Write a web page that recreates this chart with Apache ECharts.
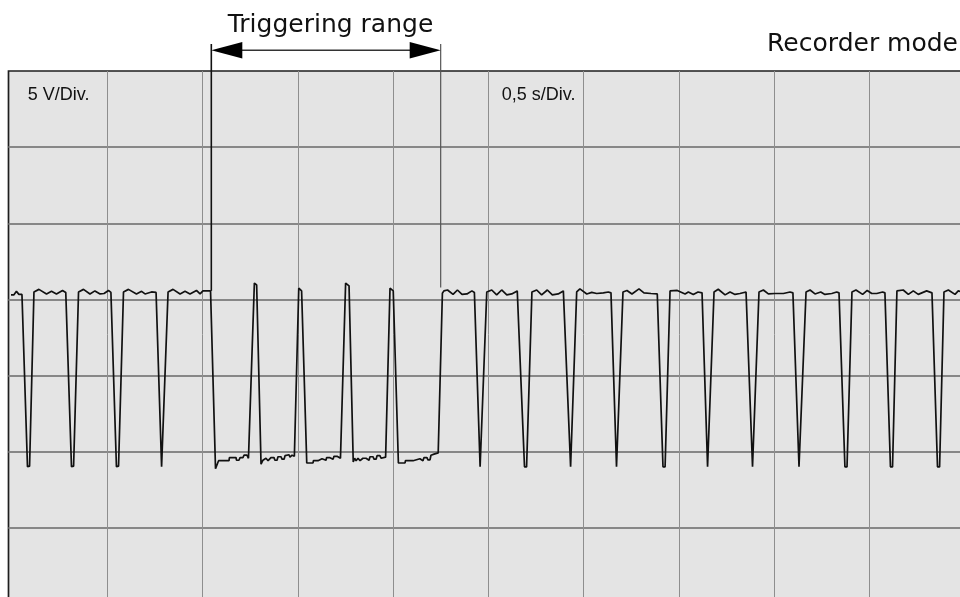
<!DOCTYPE html>
<html>
<head>
<meta charset="utf-8">
<script src="https://cdn.jsdelivr.net/npm/echarts@6/dist/echarts.min.js"></script>
<style>html,body{margin:0;padding:0;background:#fff}#c{width:960px;height:597px}</style>
</head>
<body>
<div id="c"></div>
<script>
// ---- Axis setup (time in s, 0.5 s/div; voltage in V, 5 V/div) ----
const xMin = 0, xMax = 5, xInterval = 0.5;
const yMin = -10, yMax = 25, yInterval = 5;
const voltDivLabel = '5 V/Div.';
const timeDivLabel = '0,5 s/Div.';
const titleLabel = 'Triggering range';
const modeLabel = 'Recorder mode';
// Triggering range bounds [s] and the voltage where each marker meets the trace
const triggerRange = [1.046, 2.250];
const triggerMarkerEndV = [10.56, 10.78];

// ---- Trace [time s, voltage V] ----
const preTrigger = [
[-0.021,10.30],[0.010,10.30],[0.023,10.53],[0.036,10.33],[0.052,10.33],[0.081,-0.99],[0.092,-0.95],
[0.115,10.49],[0.141,10.66],[0.181,10.36],[0.207,10.53],[0.233,10.36],[0.265,10.59],[0.282,10.46],[0.312,-0.99],[0.323,-0.95],
[0.349,10.49],[0.375,10.66],[0.409,10.36],[0.435,10.56],[0.462,10.36],[0.483,10.39],[0.506,10.59],[0.519,10.46],[0.548,-0.99],[0.559,-0.95],
[0.585,10.49],[0.611,10.66],[0.653,10.36],[0.680,10.53],[0.698,10.36],[0.732,10.49],[0.756,10.46],[0.785,-0.99],[0.795,-0.95],
[0.819,10.49],[0.845,10.66],[0.882,10.36],[0.908,10.53],[0.934,10.36],[0.968,10.59],[0.987,10.36],[1.002,10.56],[1.042,10.56]
];
const triggerWindow = [
[1.044,10.56],[1.068,-1.12],[1.078,-1.09],[1.084,-0.59],[1.139,-0.59],[1.141,-0.39],[1.176,-0.39],[1.178,-0.56],[1.191,-0.56],[1.197,-0.39],[1.212,-0.39],[1.218,-0.23],[1.233,-0.23],[1.241,-0.43],[1.246,-0.43],
[1.272,11.07],[1.284,10.95],
[1.307,-0.82],[1.312,-0.82],[1.317,-0.56],[1.325,-0.69],[1.333,-0.43],[1.344,-0.59],[1.354,-0.59],[1.359,-0.39],[1.375,-0.39],[1.380,-0.56],[1.391,-0.56],[1.396,-0.33],[1.412,-0.33],[1.417,-0.49],[1.428,-0.49],[1.433,-0.26],[1.454,-0.20],[1.459,-0.36],[1.470,-0.23],[1.482,-0.30],
[1.505,10.74],[1.520,10.56],
[1.547,-0.74],[1.580,-0.74],[1.582,-0.59],[1.606,-0.59],[1.609,-0.46],[1.627,-0.46],[1.630,-0.56],[1.648,-0.56],[1.651,-0.39],[1.669,-0.39],[1.674,-0.49],[1.685,-0.49],[1.690,-0.30],[1.706,-0.30],[1.711,-0.43],[1.724,-0.43],[1.730,-0.36],
[1.751,11.07],[1.769,10.89],
[1.791,-0.67],[1.798,-0.43],[1.806,-0.59],[1.816,-0.43],[1.827,-0.59],[1.837,-0.59],[1.842,-0.43],[1.858,-0.43],[1.863,-0.56],[1.874,-0.56],[1.879,-0.33],[1.895,-0.33],[1.900,-0.49],[1.911,-0.49],[1.916,-0.26],[1.931,-0.26],[1.937,-0.43],[1.947,-0.30],[1.961,-0.36],
[1.984,10.74],[2.001,10.56],
[2.028,-0.74],[2.063,-0.74],[2.065,-0.59],[2.105,-0.59],[2.107,-0.46],[2.141,-0.46],[2.144,-0.59],[2.157,-0.59],[2.162,-0.39],[2.178,-0.39],[2.183,-0.53],[2.194,-0.53],[2.199,-0.23],[2.215,-0.16],[2.225,-0.10],[2.237,-0.08]
];
const postTrigger = [
[2.259,10.41],[2.267,10.56],[2.286,10.62],[2.315,10.33],[2.338,10.62],[2.362,10.33],[2.388,10.36],[2.414,10.56],[2.427,10.46],[2.457,-0.99],[2.467,-1.00],
[2.492,10.49],[2.518,10.62],[2.544,10.30],[2.570,10.62],[2.597,10.30],[2.623,10.36],[2.652,10.56],[2.661,10.46],[2.690,-0.99],[2.701,-1.00],
[2.729,10.49],[2.754,10.62],[2.780,10.30],[2.810,10.62],[2.836,10.30],[2.867,10.36],[2.894,10.56],[2.903,10.46],[2.932,-0.99],[2.942,-1.00],
[2.964,10.49],[2.981,10.69],[3.017,10.36],[3.043,10.46],[3.069,10.39],[3.104,10.43],[3.130,10.49],[3.144,10.43],[3.173,-0.99],[3.183,-1.00],
[3.207,10.49],[3.228,10.59],[3.254,10.36],[3.291,10.69],[3.317,10.43],[3.354,10.39],[3.387,10.36],[3.417,-0.99],[3.428,-1.00],
[3.454,10.56],[3.492,10.59],[3.533,10.36],[3.550,10.49],[3.576,10.33],[3.601,10.49],[3.622,10.43],[3.651,-0.99],[3.661,-1.00],
[3.685,10.49],[3.707,10.67],[3.743,10.30],[3.769,10.49],[3.795,10.33],[3.821,10.39],[3.853,10.49],[3.858,10.43],[3.887,-0.99],[3.897,-1.00],
[3.921,10.49],[3.944,10.62],[3.970,10.36],[4.005,10.39],[4.049,10.39],[4.084,10.49],[4.099,10.43],[4.131,-0.99],[4.141,-1.00],
[4.168,10.49],[4.189,10.62],[4.215,10.36],[4.245,10.49],[4.267,10.33],[4.303,10.39],[4.329,10.49],[4.341,10.43],[4.372,-0.99],[4.383,-1.00],
[4.409,10.49],[4.430,10.62],[4.465,10.33],[4.489,10.59],[4.513,10.39],[4.539,10.39],[4.570,10.49],[4.582,10.43],[4.611,-0.99],[4.622,-1.00],
[4.645,10.56],[4.678,10.62],[4.705,10.33],[4.731,10.56],[4.757,10.33],[4.801,10.56],[4.829,10.43],[4.858,-0.99],[4.869,-1.00],
[4.892,10.49],[4.915,10.62],[4.950,10.33],[4.967,10.56],[4.987,10.49]
];

const trace = preTrigger.concat(triggerWindow, postTrigger);

const chart = echarts.init(document.getElementById('c'), null, {renderer: 'canvas'});
const option = {
  animation: false,
  backgroundColor: '#ffffff',
  grid: [
    // screen frame: background, border and horizontal divisions (runs to the left border)
    {left: 8.5, top: 71, width: 980, height: 533, outerBoundsMode: 'none', containLabel: false, show: true, backgroundColor: '#e4e4e4', borderColor: '#1e1e1e', borderWidth: 1.7},
    // time/voltage scale carrying the trace and vertical divisions
    {left: 12.05, top: 71, width: 952.5, height: 533, outerBoundsMode: 'none', containLabel: false, show: false}
  ],
  xAxis: [
    {gridIndex: 0, type: 'value', show: false, min: 0, max: 1},
    {gridIndex: 1, type: 'value', min: xMin, max: xMax, interval: xInterval,
     axisLine: {show: false}, axisTick: {show: false}, axisLabel: {show: false},
     splitLine: {show: true, showMinLine: false, showMaxLine: false, lineStyle: {color: '#8e8e8e', width: 1}}}
  ],
  yAxis: [
    {gridIndex: 0, type: 'value', min: yMin, max: yMax, interval: yInterval,
     axisLine: {show: false}, axisTick: {show: false}, axisLabel: {show: false},
     splitLine: {show: true, showMinLine: false, showMaxLine: false, lineStyle: {color: '#878787', width: 2}}},
    {gridIndex: 1, type: 'value', min: yMin, max: yMax, interval: yInterval,
     axisLine: {show: false}, axisTick: {show: false}, axisLabel: {show: false},
     splitLine: {show: false}}
  ],
  series: [{
    type: 'line', xAxisIndex: 1, yAxisIndex: 1, data: trace,
    showSymbol: false, symbol: 'none', clip: false, smooth: false,
    lineStyle: {color: '#111111', width: 1.7}, z: 5
  }]
};
chart.setOption(option);

const pL = chart.convertToPixel({gridIndex: 1}, [triggerRange[0], triggerMarkerEndV[0]]);
const pR = chart.convertToPixel({gridIndex: 1}, [triggerRange[1], triggerMarkerEndV[1]]);
const topY = 44, arrowY = 50.2, headLen = 31, headHalf = 8.3;

chart.setOption({
  graphic: [
    {type: 'line', z: 100, shape: {x1: pL[0], y1: topY, x2: pL[0], y2: pL[1]}, style: {stroke: '#111', lineWidth: 1.6}},
    {type: 'line', z: 100, shape: {x1: pR[0], y1: topY, x2: pR[0], y2: pR[1]}, style: {stroke: '#555', lineWidth: 1.2}},
    {type: 'line', z: 100, shape: {x1: pL[0] + headLen - 2, y1: arrowY, x2: pR[0] - headLen + 2, y2: arrowY}, style: {stroke: '#333', lineWidth: 1.5}},
    {type: 'polygon', z: 100, shape: {points: [[pL[0], arrowY], [pL[0] + headLen, arrowY - headHalf], [pL[0] + headLen, arrowY + headHalf]]}, style: {fill: '#000'}},
    {type: 'polygon', z: 100, shape: {points: [[pR[0], arrowY], [pR[0] - headLen, arrowY - headHalf], [pR[0] - headLen, arrowY + headHalf]]}, style: {fill: '#000'}},
    {type: 'text', z: 100, style: {text: titleLabel, x: 330.5, y: 25.5, font: '25px "DejaVu Sans"', fill: '#111', textAlign: 'center', textVerticalAlign: 'middle'}},
    {type: 'text', z: 100, style: {text: modeLabel, x: 958, y: 44, font: '25px "DejaVu Sans"', fill: '#111', textAlign: 'right', textVerticalAlign: 'middle'}},
    {type: 'text', z: 100, style: {text: voltDivLabel, x: 27.7, y: 94.7, font: '18px "Liberation Sans"', fill: '#111', textAlign: 'left', textVerticalAlign: 'middle'}},
    {type: 'text', z: 100, style: {text: timeDivLabel, x: 501.7, y: 94.7, font: '18px "Liberation Sans"', fill: '#111', textAlign: 'left', textVerticalAlign: 'middle'}}
  ]
});
</script>
</body>
</html>
